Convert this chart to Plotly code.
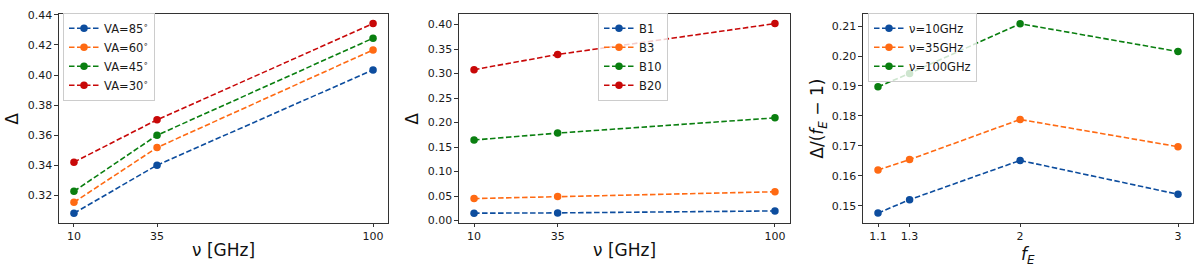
import plotly.graph_objects as go

# Panel 1: Delta vs frequency for viewing angles
freq = [10, 35, 100]
va_labels = ["VA=85<sup>∘</sup>", "VA=60<sup>∘</sup>", "VA=45<sup>∘</sup>", "VA=30<sup>∘</sup>"]
va85 = [0.308, 0.340, 0.4034]
va60 = [0.3153, 0.3517, 0.4167]
va45 = [0.3226, 0.3599, 0.4245]
va30 = [0.342, 0.3702, 0.4342]

# Panel 2: Delta vs frequency for B values
b_labels = ["B1", "B3", "B10", "B20"]
b1 = [0.0152, 0.0158, 0.0198]
b3 = [0.045, 0.049, 0.0589]
b10 = [0.1645, 0.1786, 0.2097]
b20 = [0.308, 0.339, 0.402]

# Panel 3: Delta/(fE-1) vs fE
fe = [1.1, 1.3, 2, 3]
fe_text = ["1.1", "1.3", "2", "3"]
nu_labels = ["ν=10GHz", "ν=35GHz", "ν=100GHz"]
nu10 = [0.1475, 0.152, 0.1651, 0.1538]
nu35 = [0.1619, 0.1654, 0.1788, 0.1697]
nu100 = [0.1897, 0.1942, 0.2108, 0.2015]

colors = ["#0d4d9e", "#ff6a13", "#0a7f10", "#c80808"]

fig = go.Figure()

def add(x, y, name, color, xa, ya, legend):
    fig.add_trace(go.Scatter(
        x=x, y=y, name=name, mode="lines+markers",
        line=dict(color=color, width=1.6, dash="5.5px,2.5px"),
        marker=dict(color=color, size=7.5),
        xaxis=xa, yaxis=ya, legend=legend))

for y, n, c in zip([va85, va60, va45, va30], va_labels, colors):
    add(freq, y, n, c, "x", "y", "legend")
for y, n, c in zip([b1, b3, b10, b20], b_labels, colors):
    add(freq, y, n, c, "x2", "y2", "legend2")
for y, n, c in zip([nu10, nu35, nu100], nu_labels, colors):
    add(fe, y, n, c, "x3", "y3", "legend3")

W, H = 1200, 272
ydom = [1 - 226 / H, 1 - 9.5 / H]
tickfont = dict(family="DejaVu Sans", size=11, color="#1a1a1a")
common = dict(showgrid=False, zeroline=False, showline=True, linecolor="#333",
              linewidth=1.2, mirror=True, ticks="outside", ticklen=3.5,
              tickcolor="#333", tickfont=tickfont)

fig.update_layout(
    width=W, height=H,
    margin=dict(l=0, r=0, t=0, b=0),
    paper_bgcolor="white", plot_bgcolor="white",
    font=dict(family="DejaVu Sans", color="#222"),
    xaxis=dict(domain=[59 / W, 388 / W], range=[5.5, 104.5], tickvals=freq,
               **common),
    yaxis=dict(domain=ydom, range=[0.3017, 0.4405],
               tickvals=[0.32, 0.34, 0.36, 0.38, 0.40, 0.42, 0.44],
               tickformat=".2f", **common),
    xaxis2=dict(domain=[459 / W, 790 / W], range=[5.5, 104.5], tickvals=freq,
                anchor="y2", **common),
    yaxis2=dict(domain=ydom, range=[-0.0042, 0.4213],
                tickvals=[0, 0.05, 0.1, 0.15, 0.2, 0.25, 0.3, 0.35, 0.4],
                tickformat=".2f", anchor="x2", **common),
    xaxis3=dict(domain=[863 / W, 1193 / W], range=[1.005, 3.095], tickvals=fe,
                ticktext=fe_text, anchor="y3", **common),
    yaxis3=dict(domain=ydom, range=[0.1443, 0.214],
                tickvals=[0.15, 0.16, 0.17, 0.18, 0.19, 0.20, 0.21],
                tickformat=".2f", anchor="x3", **common),
)

legstyle = dict(bgcolor="rgba(255,255,255,0.8)", bordercolor="#cccccc", borderwidth=1,
                font=dict(family="DejaVu Sans", size=11.5, color="#1a1a1a"),
                xanchor="left", yanchor="top", tracegroupgap=0, itemwidth=30)
fig.update_layout(
    legend=dict(x=63 / W, y=1 - 8 / H, **legstyle),
    legend2=dict(x=598 / W, y=1 - 8 / H, **legstyle),
    legend3=dict(x=868 / W, y=1 - 8 / H, **legstyle),
)

titlefont = dict(family="DejaVu Sans", size=17, color="#111")
ann = [
    dict(x=223.5 / W, y=1 - 254 / H, text="ν [GHz]"),
    dict(x=624.5 / W, y=1 - 254 / H, text="ν [GHz]"),
    dict(x=1028 / W, y=1 - 260 / H, text="<i>f</i><sub><i>E</i></sub>"),
    dict(x=12 / W, y=1 - 118 / H, text="Δ", textangle=-90),
    dict(x=412 / W, y=1 - 118 / H, text="Δ", textangle=-90),
    dict(x=819 / W, y=1 - 118 / H, text="Δ/(<i>f</i><sub><i>E</i></sub> − 1)", textangle=-90),
]
for a in ann:
    fig.add_annotation(xref="paper", yref="paper", showarrow=False,
                       xanchor="center", yanchor="middle", font=titlefont, **a)

fig.write_html("out.html", config={"displayModeBar": False},
               post_script="document.body.style.margin='0';document.body.style.overflow='hidden';")
